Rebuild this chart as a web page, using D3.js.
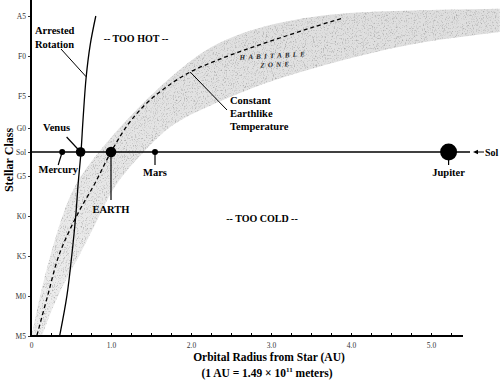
<!DOCTYPE html>
<html><head><meta charset="utf-8">
<script src="https://cdn.jsdelivr.net/npm/d3@7"></script>
<style>
body{margin:0;background:#fff}
svg{display:block}
text{font-family:"Liberation Serif","Times New Roman",serif}
</style>
</head><body>
<svg id="c" width="500" height="383"></svg>
<script>
// ---- data ----
const stellarClasses = ["A5","F0","F5","G0","Sol","G5","K0","K5","M0","M5"];
const classValues    = [5, 10, 15, 19, 22, 25, 30, 35, 40, 45];
const auTicksMajor   = [0, 1, 2, 3, 4, 5];
const auTickLabels   = ["0","1.0","2.0","3.0","4.0","5.0"];
const auTicksMinor   = [0.25,0.5,0.75,1.25,1.5,1.75,2.25,2.5,2.75,3.25,3.5,3.75,4.25,4.5,4.75,5.25];

const planetNames = ["Mercury","Venus","EARTH","Mars","Jupiter"];
const planetAU    = [0.39, 0.62, 1.0, 1.55, 5.22];
const solClass    = 22;

// arrested rotation curve
const rotationAU    = [0.36, 0.45, 0.51, 0.56, 0.59, 0.625, 0.65, 0.69, 0.74, 0.81];
const rotationClass = [44.9, 39.9, 34.9, 29.9, 25.9, 22,    18,   12.6, 8.6,  5];
// constant earthlike temperature curve
const tempAU    = [0.075, 0.21, 0.35, 0.575, 0.8, 1.0, 1.21, 1.425, 1.675, 1.99, 2.36, 2.74, 3.11, 3.525, 3.9];
const tempClass = [44.9,  39.9, 34.9, 29.9,  25.9, 22, 18.6, 16.1,  14,    12,   10.4, 9,    7.75, 6.4,   5.25];
// habitable zone edges
const hzInnerAU    = [0.01, 0.11, 0.24, 0.39, 0.55, 0.84, 1.24, 1.74, 2.24, 2.8, 3.36, 3.99, 4.86, 5.86];
const hzInnerClass = [44.9, 39.9, 34.9, 29.9, 25.9, 22,   17.4, 12.6, 8.6,  6.5, 5.25, 4.5,  4.25, 4.1];
const hzOuterAU    = [0.14, 0.325, 0.61, 0.86, 1.05, 1.4, 1.74, 2.11, 2.74, 3.36, 3.99, 4.61, 5.24, 5.86];
const hzOuterClass = [44.9, 39.9,  34.9, 29.9, 25.9, 22,  18.6, 16.75, 14,  12,   10.25, 8.75, 7.75, 7];

// ---- drawing ----
const svg = d3.select("#c");
const x = d3.scaleLinear().domain([0, 5.4]).range([31, 463]);
const y = d3.scaleLinear().domain([5, 45]).range([16, 336]);

const defs = svg.append("defs");
defs.append("clipPath").attr("id","plot").append("rect")
  .attr("x", x(0)).attr("y", 0).attr("width", 500 - x(0)).attr("height", y(45));
const grad = defs.append("linearGradient").attr("id","bandFill").attr("x1",0).attr("y1",0).attr("x2",0).attr("y2",1);
grad.append("stop").attr("offset","0%").attr("stop-color","#dedede");
grad.append("stop").attr("offset","100%").attr("stop-color","#eeeeee");
const f = defs.append("filter").attr("id","grain").attr("x","0").attr("y","0").attr("width","1").attr("height","1");
f.append("feTurbulence").attr("type","fractalNoise").attr("baseFrequency","1.1 0.6").attr("numOctaves",2).attr("seed",7).attr("result","n");
f.append("feColorMatrix").attr("in","n").attr("type","matrix")
  .attr("values","0 0 0 0 0.35  0 0 0 0 0.35  0 0 0 0 0.35  0 0 0 2.6 -1.35").attr("result","sp");
f.append("feComposite").attr("in","sp").attr("in2","SourceGraphic").attr("operator","in").attr("result","s");
const fm = f.append("feMerge");
fm.append("feMergeNode").attr("in","SourceGraphic");
fm.append("feMergeNode").attr("in","s");

const zip = (a, b) => a.map((v, i) => [v, b[i]]);
const curveLine = d3.line().x(d => x(d[0])).y(d => y(d[1])).curve(d3.curveCatmullRom.alpha(0.5));
const bandLine  = d3.line().x(d => x(d[0])).y(d => y(d[1])).curve(d3.curveBasis);

// habitable zone band
const inner = zip(hzInnerAU, hzInnerClass);
const outer = zip(hzOuterAU, hzOuterClass).reverse();
const bandPath = bandLine(inner) + "L" + bandLine(outer).slice(1) + "Z";
const band = svg.append("g").attr("clip-path","url(#plot)");
band.append("path").attr("d", bandPath).attr("fill","url(#bandFill)").attr("filter","url(#grain)");

// axes
const yAxis = d3.axisLeft(y).tickValues(classValues).tickFormat((d,i) => stellarClasses[i]).tickSize(3).tickPadding(2);
const gy = svg.append("g").attr("transform",`translate(${x(0)},0)`).call(yAxis);
gy.select(".domain").remove();
gy.selectAll("text").attr("font-size", 7.5).attr("fill","#333").attr("font-family","Liberation Serif");
gy.selectAll("line").attr("stroke","#333");

const gxMinor = svg.append("g").attr("transform",`translate(0,${y(45)})`)
  .call(d3.axisBottom(x).tickValues(auTicksMinor).tickSize(-3).tickFormat(""));
gxMinor.select(".domain").remove();
const gx = svg.append("g").attr("transform",`translate(0,${y(45)})`)
  .call(d3.axisBottom(x).tickValues(auTicksMajor).tickSize(-3).tickPadding(7).tickFormat((d,i) => auTickLabels[i]));
gx.select(".domain").remove();
gx.selectAll("text").attr("font-size", 7.5).attr("fill","#333").attr("font-family","Liberation Serif");

svg.append("line").attr("x1", x(0)).attr("x2", x(0)).attr("y1", 0).attr("y2", y(45) + 1)
  .attr("stroke","#000").attr("stroke-width", 2);
svg.append("line").attr("x1", x(0) - 1).attr("x2", x(5.4)).attr("y1", y(45)).attr("y2", y(45))
  .attr("stroke","#000").attr("stroke-width", 2);

// curves
svg.append("path").attr("d", curveLine(zip(tempAU, tempClass))).attr("fill","none")
  .attr("stroke","#000").attr("stroke-width",1.3).attr("stroke-dasharray","4,3");
svg.append("path").attr("d", curveLine(zip(rotationAU, rotationClass))).attr("fill","none")
  .attr("stroke","#000").attr("stroke-width",1.3);

// Sol line
const ySol = y(solClass);
svg.append("line").attr("x1", x(0)).attr("x2", 470).attr("y1", ySol).attr("y2", ySol)
  .attr("stroke","#000").attr("stroke-width",1.5);
svg.append("line").attr("x1", 477).attr("x2", 484).attr("y1", ySol).attr("y2", ySol)
  .attr("stroke","#000").attr("stroke-width",1);
svg.append("path").attr("d", `M473,${ySol}L478,${ySol-2.2}L478,${ySol+2.2}Z`).attr("fill","#000");
svg.append("text").attr("x", 485).attr("y", ySol + 3.5).attr("font-size", 10).attr("font-weight","bold").text("Sol");

// planets
const pStyle = {Mercury:{r:3, lx:-4, ly:21, ex:-4, ey:13},
                Venus:{r:4.8, lx:-24, ly:-21, ex:-14, ey:-15},
                EARTH:{r:5.3, lx:0, ly:61, ex:0, ey:48},
                Mars:{r:3, lx:0, ly:24, ex:0, ey:13},
                Jupiter:{r:8.5, lx:0, ly:24, ex:0, ey:13}};
planetNames.forEach((n, i) => {
  const px = x(planetAU[i]), s = pStyle[n];
  svg.append("line").attr("x1", px).attr("y1", ySol).attr("x2", px + s.ex).attr("y2", ySol + s.ey)
    .attr("stroke","#000").attr("stroke-width",1.2);
  svg.append("circle").attr("cx", px).attr("cy", ySol).attr("r", s.r).attr("fill","#000");
  svg.append("text").attr("x", px + s.lx).attr("y", ySol + s.ly).attr("text-anchor","middle")
    .attr("font-size", 10.5).attr("font-weight","bold").text(n);
});

// annotations
const bold = (t, xx, yy, size, anchor) => svg.append("text").attr("x", xx).attr("y", yy)
  .attr("font-size", size).attr("font-weight","bold").attr("text-anchor", anchor || "start").text(t);
bold("Arrested", 35, 34, 10.5);
bold("Rotation", 35, 48, 10.5);
svg.append("line").attr("x1", 61).attr("y1", 49).attr("x2", x(0.69)).attr("y2", y(12.6)).attr("stroke","#000").attr("stroke-width",1);
bold("-- TOO HOT --", 136, 42, 10, "middle");
bold("-- TOO COLD --", 262, 222, 10, "middle");
bold("Constant", 230, 104, 10.5);
bold("Earthlike", 230, 117, 10.5);
bold("Temperature", 230, 130, 10.5);
svg.append("line").attr("x1", 227).attr("y1", 110).attr("x2", x(1.99)).attr("y2", y(12)).attr("stroke","#000").attr("stroke-width",1);

const hz = svg.append("g").attr("transform","translate(274,58) rotate(-3)");
hz.append("text").attr("text-anchor","middle").attr("font-size",7).attr("font-style","italic")
  .attr("font-weight","bold").attr("letter-spacing",3.2).attr("fill","#222").text("HABITABLE");
hz.append("text").attr("y",9).attr("x",2).attr("text-anchor","middle").attr("font-size",7).attr("font-style","italic")
  .attr("font-weight","bold").attr("letter-spacing",3.2).attr("fill","#222").text("ZONE");

// axis titles
svg.append("text").attr("transform","translate(13,160) rotate(-90)").attr("text-anchor","middle")
  .attr("font-size", 12).attr("font-weight","bold").text("Stellar Class");
bold("Orbital Radius from Star (AU)", 269, 361, 11.5, "middle");
const t2 = svg.append("text").attr("x", 267).attr("y", 377).attr("text-anchor","middle")
  .attr("font-size", 11.5).attr("font-weight","bold");
t2.append("tspan").text("(1 AU = 1.49 × 10");
t2.append("tspan").attr("dy",-5).attr("font-size",7).text("11");
t2.append("tspan").attr("dy",5).text(" meters)");
</script>
</body></html>
